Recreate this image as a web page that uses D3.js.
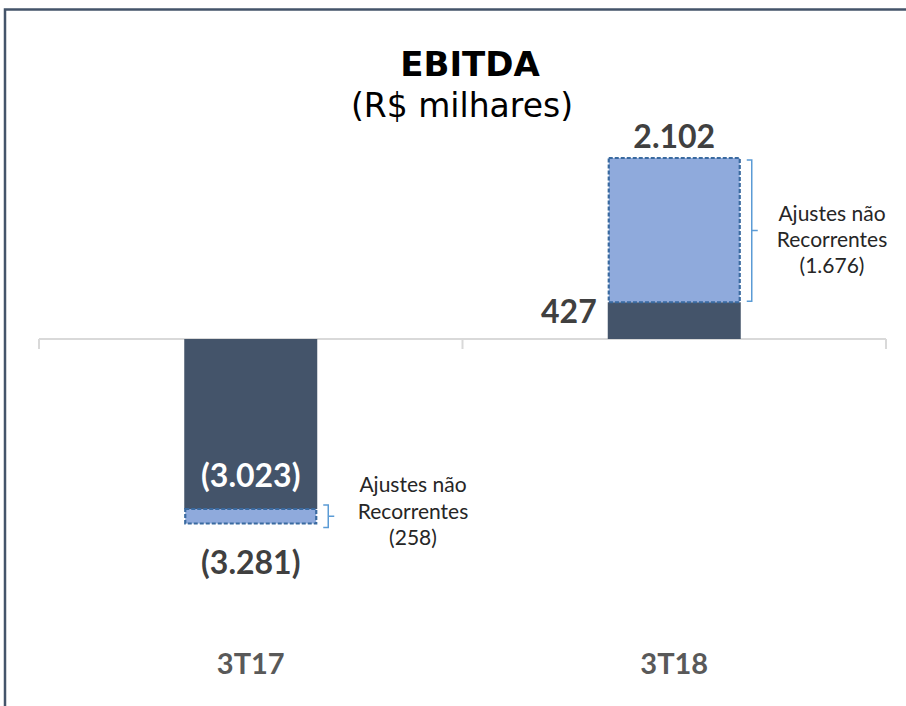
<html lang='pt'>
    <head>
        <title>EBITDA</title>
        <script src="https://d3js.org/d3.v7.min.js" charset="utf-8"></script>
        <style>
        body{
          margin: 0;
          background: #fff;
        }
        .value{
          font-family: Lato, "Open Sans", sans-serif;
          font-weight: bold;
          font-size: 32px;
          fill: #404040;
        }
        .note{
          font-family: Lato, "Open Sans", sans-serif;
          font-size: 21px;
          fill: #262626;
        }
        .cat{
          font-family: Lato, "Open Sans", sans-serif;
          font-weight: bold;
          font-size: 29px;
          fill: #595959;
        }
        </style>
    </head>
    <body>
        <script>
            //Data (R$ milhares)
            var categories = ["3T17", "3T18"];
            var ebitda = [-3281, 2102];          //reported EBITDA
            var recorrente = [-3023, 427];       //EBITDA without the adjustments
            var ajustes = [-258, 1676];          //non recurring adjustments
            var ajusteTexto = ["Ajustes não", "Recorrentes"];

            var width = 906
            var height = 706

            //number format: 3.281 / (3.281)
            var br = d3.formatLocale({decimal: ",", thousands: ".", grouping: [3], currency: ["R$", ""]});
            var fmt = function(v){
              var s = br.format(",")(Math.abs(v));
              return v < 0 ? "(" + s + ")" : s;
            }

            var svg = d3.select("body")
                        .append("svg")
                        .attr("width", width)
                        .attr("height", height);

            //frame
            svg.append("rect")
               .attr("x", 5)
               .attr("y", 9.5)
               .attr("width", width + 10)
               .attr("height", height + 10)
               .attr("fill", "none")
               .attr("stroke", "#44546a")
               .attr("stroke-width", 2.5);

            //title
            svg.append("text")
               .attr("x", 470)
               .attr("y", 76)
               .attr("text-anchor", "middle")
               .style("font-family", "'DejaVu Sans', Verdana, sans-serif")
               .style("font-weight", "bold")
               .style("font-size", "34px")
               .style("fill", "#000")
               .text("EBITDA");

            svg.append("text")
               .attr("x", 462)
               .attr("y", 117)
               .attr("text-anchor", "middle")
               .style("font-family", "'DejaVu Sans', Verdana, sans-serif")
               .style("font-size", "33px")
               .style("fill", "#000")
               .text("(R$ milhares)");

            //scales - the original is not drawn to one unit, so the
            //negative and positive sides get their own stretch
            var x = d3.scaleBand()
                      .domain(categories)
                      .range([39, 886])
                      .padding(0);

            var y = d3.scaleLinear()
                      .domain([d3.min(ebitda), 0, d3.max(ebitda)])
                      .range([523.5, 339, 158]);

            var barW = 133;
            var bx = function(i){ return x(categories[i]) + x.bandwidth()/2 - barW/2; }

            //axis line with ticks on the band edges
            var axis = svg.append("g");
            axis.append("line")
                .attr("x1", x.range()[0]).attr("x2", x.range()[1])
                .attr("y1", y(0)).attr("y2", y(0))
                .attr("stroke", "#d9d9d9").attr("stroke-width", 2);
            axis.selectAll(".tick")
                .data(d3.range(categories.length + 1))
                .enter()
                .append("line")
                .attr("x1", function(i){ return x.range()[0] + i*x.step(); })
                .attr("x2", function(i){ return x.range()[0] + i*x.step(); })
                .attr("y1", y(0))
                .attr("y2", y(0) + 10)
                .attr("stroke", "#d9d9d9").attr("stroke-width", 2);

            //recurring part (dark)
            svg.append("g")
               .selectAll("rect")
               .data(recorrente)
               .enter()
               .append("rect")
               .attr("x", function(d, i){ return bx(i); })
               .attr("y", function(d){ return Math.min(y(0), y(d)); })
               .attr("width", barW)
               .attr("height", function(d){ return Math.abs(y(d) - y(0)); })
               .attr("fill", "#44546a");

            //adjustments (light, dashed)
            svg.append("g")
               .selectAll("rect")
               .data(ajustes)
               .enter()
               .append("rect")
               .attr("x", function(d, i){ return bx(i) + 1; })
               .attr("y", function(d, i){ return Math.min(y(recorrente[i]), y(ebitda[i])); })
               .attr("width", barW - 2)
               .attr("height", function(d, i){ return Math.abs(y(ebitda[i]) - y(recorrente[i])); })
               .attr("fill", "#8faadc")
               .attr("stroke", "#3a6aa0")
               .attr("stroke-width", 2.2)
               .attr("stroke-dasharray", "4,2");

            //value labels
            //3T17
            svg.append("text").attr("class", "value")
               .attr("x", bx(0) + barW/2).attr("y", y(ebitda[0]) + 50)
               .attr("text-anchor", "middle")
               .text(fmt(ebitda[0]));
            svg.append("text").attr("class", "value")
               .attr("x", bx(0) + barW/2).attr("y", y(recorrente[0]) - 22)
               .attr("text-anchor", "middle")
               .style("fill", "#fff")
               .text(fmt(recorrente[0]));
            //3T18
            svg.append("text").attr("class", "value")
               .attr("x", bx(1) + barW/2).attr("y", y(ebitda[1]) - 10)
               .attr("text-anchor", "middle")
               .text(fmt(ebitda[1]));
            svg.append("text").attr("class", "value")
               .attr("x", bx(1) - 11).attr("y", y(0) - 16)
               .attr("text-anchor", "end")
               .text(fmt(recorrente[1]));

            //braces + notes
            var notes = [
              {i: 0, top: y(recorrente[0]) - 4, bot: y(ebitda[0]) + 4, tx: 413, ty: [492, 519, 545]},
              {i: 1, top: y(ebitda[1]) + 2, bot: y(recorrente[1]) - 1, tx: 832, ty: [221, 247, 273]}
            ];
            notes.forEach(function(n){
              var bx0 = bx(n.i) + barW + 6;
              var mid = (n.top + n.bot)/2;
              svg.append("path")
                 .attr("d", "M" + bx0 + "," + n.top + "H" + (bx0 + 5) + "V" + mid + "H" + (bx0 + 11)
                          + "M" + (bx0 + 5) + "," + mid + "V" + n.bot + "H" + bx0)
                 .attr("fill", "none")
                 .attr("stroke", "#5b9bd5")
                 .attr("stroke-width", 1.5);
              //adjustment amount always shown in brackets
              var lines = ajusteTexto.concat(["(" + br.format(",")(Math.abs(ajustes[n.i])) + ")"]);
              svg.append("g")
                 .selectAll("text")
                 .data(lines)
                 .enter()
                 .append("text")
                 .attr("class", "note")
                 .attr("x", n.tx)
                 .attr("y", function(d, k){ return n.ty[k]; })
                 .attr("text-anchor", "middle")
                 .text(function(d){ return d; });
            });

            //categories
            svg.append("g")
               .selectAll("text")
               .data(categories)
               .enter()
               .append("text")
               .attr("class", "cat")
               .attr("x", function(d){ return x(d) + x.bandwidth()/2; })
               .attr("y", 674)
               .attr("text-anchor", "middle")
               .text(function(d){ return d; });
        </script>
    </body>
</html>
